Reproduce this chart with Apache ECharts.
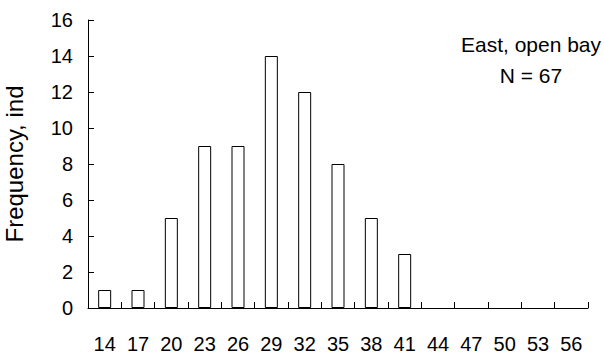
<!DOCTYPE html>
<html>
<head>
<meta charset="utf-8">
<script src="https://cdn.jsdelivr.net/npm/echarts@6/dist/echarts.min.js"></script>
<style>
html,body{margin:0;padding:0;background:#fff;}
#chart{width:604px;height:359px;}
</style>
</head>
<body>
<div id="chart"></div>
<script>
const categories = ['14','17','20','23','26','29','32','35','38','41','44','47','50','53','56'];
const frequency = [1, 1, 5, 9, 9, 14, 12, 8, 5, 3, 0, 0, 0, 0, 0];
const yTicks = { min: 0, max: 16, interval: 2 };
const annotationLines = ['East, open bay', 'N = 67'];
const yAxisTitle = 'Frequency, ind';

const FONT = '"Liberation Sans", Arial, sans-serif';
const chart = echarts.init(document.getElementById('chart'), null, { renderer: 'svg' });
chart.setOption({
  animation: false,
  backgroundColor: '#fff',
  grid: { left: 88, right: 16, top: 20, bottom: 51, containLabel: false, outerBoundsMode: 'none' },
  xAxis: {
    type: 'category',
    data: categories,
    boundaryGap: true,
    axisLine: { lineStyle: { color: '#000', width: 1 } },
    axisTick: { show: true, inside: true, length: 6, alignWithLabel: false, lineStyle: { color: '#000' } },
    axisLabel: { color: '#000', fontFamily: FONT, fontSize: 20, margin: 26, interval: 0 },
    splitLine: { show: false }
  },
  yAxis: {
    type: 'value',
    min: yTicks.min, max: yTicks.max, interval: yTicks.interval,
    name: yAxisTitle,
    nameLocation: 'middle',
    nameGap: 62,
    nameTextStyle: { color: '#000', fontFamily: FONT, fontSize: 24 },
    axisLine: { show: true, lineStyle: { color: '#000', width: 1 } },
    axisTick: { show: true, inside: true, length: 6, lineStyle: { color: '#000' } },
    axisLabel: { color: '#000', fontFamily: FONT, fontSize: 20, margin: 15 },
    splitLine: { show: false }
  },
  graphic: annotationLines.map((t, i) => ({
    type: 'text',
    x: 531, y: 44 + i * 31,
    style: { text: t, fill: '#000', font: '21px ' + FONT, align: 'center', verticalAlign: 'middle' }
  })),
  series: [{
    type: 'bar',
    data: frequency.map(v => v === 0 ? { value: v, itemStyle: { borderWidth: 0 } } : v),
    barWidth: 13,
    itemStyle: { color: '#fff', borderColor: '#000', borderWidth: 1 },
    emphasis: { disabled: true }
  }]
});
</script>
</body>
</html>
